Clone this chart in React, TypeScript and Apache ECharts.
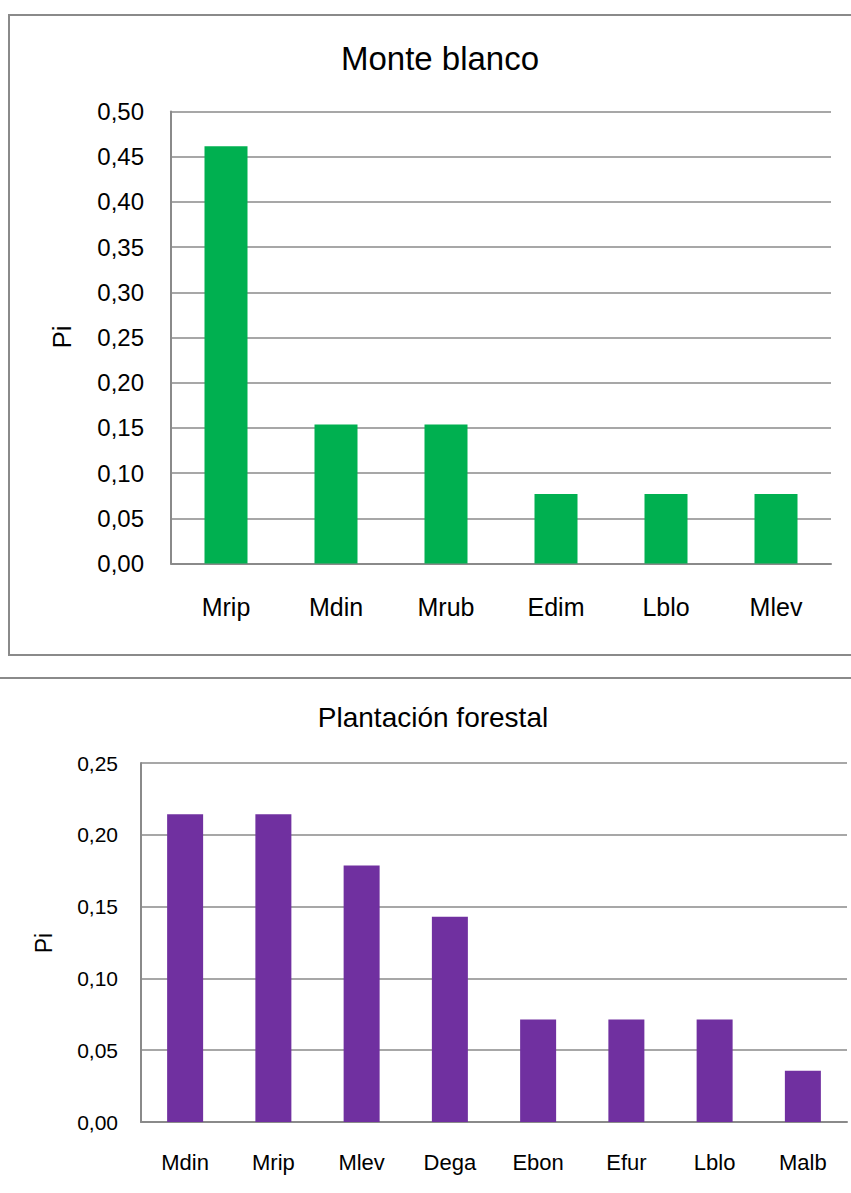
import React, { useEffect, useRef } from "react";
import * as echarts from "echarts";

const topTitle = "Monte blanco";
const topCategories = ["Mrip", "Mdin", "Mrub", "Edim", "Lblo", "Mlev"];
const topValues = [0.4615, 0.1538, 0.1538, 0.0769, 0.0769, 0.0769];

const bottomTitle = "Plantación forestal";
const bottomCategories = ["Mdin", "Mrip", "Mlev", "Dega", "Ebon", "Efur", "Lblo", "Malb"];
const bottomValues = [0.2143, 0.2143, 0.1786, 0.1429, 0.0714, 0.0714, 0.0714, 0.0357];

const yName = "Pi";
const FONT = "'Liberation Sans', Arial, sans-serif";
const GREY = "#8a8a8a";

const fmt = (v: number) => v.toFixed(2).replace(".", ",");

export default function App() {
  const ref = useRef<HTMLDivElement>(null);
  useEffect(() => {
    document.body.style.margin = "0";
    const chart = echarts.init(ref.current!, null, { renderer: "svg" });
    chart.setOption({
      animation: false,
      backgroundColor: "#ffffff",
      textStyle: { fontFamily: FONT },
      title: [
        {
          text: topTitle,
          left: 435,
          top: 37,
          textAlign: "center",
          textStyle: { fontSize: 33, fontWeight: "normal", color: "#000", fontFamily: FONT },
        },
        {
          text: bottomTitle,
          left: 428,
          top: 698,
          textAlign: "center",
          textStyle: { fontSize: 28, fontWeight: "normal", color: "#000", fontFamily: FONT },
        },
      ],
      grid: [
        { left: 171, top: 111.5, width: 660, height: 452 },
        { left: 141, top: 763, width: 706, height: 359 },
      ],
      xAxis: [
        {
          type: "category",
          gridIndex: 0,
          data: topCategories,
          axisLine: { lineStyle: { color: GREY, width: 2 } },
          axisTick: { show: false },
          axisLabel: { color: "#000", fontSize: 25, margin: 31, fontFamily: FONT },
        },
        {
          type: "category",
          gridIndex: 1,
          data: bottomCategories,
          axisLine: { lineStyle: { color: GREY, width: 2 } },
          axisTick: { show: false },
          axisLabel: { color: "#000", fontSize: 22, margin: 29, fontFamily: FONT },
        },
      ],
      yAxis: [
        {
          type: "value",
          gridIndex: 0,
          min: 0,
          max: 0.5,
          interval: 0.05,
          axisLine: { show: true, lineStyle: { color: GREY, width: 2 } },
          axisTick: { show: false },
          splitLine: { lineStyle: { color: GREY, width: 1.5 } },
          axisLabel: { color: "#000", fontSize: 24, margin: 27, formatter: fmt, fontFamily: FONT },
        },
        {
          type: "value",
          gridIndex: 1,
          min: 0,
          max: 0.25,
          interval: 0.05,
          axisLine: { show: true, lineStyle: { color: GREY, width: 2 } },
          axisTick: { show: false },
          splitLine: { lineStyle: { color: GREY, width: 1.5 } },
          axisLabel: { color: "#000", fontSize: 21, margin: 23, formatter: fmt, fontFamily: FONT },
        },
      ],
      series: [
        {
          type: "bar",
          xAxisIndex: 0,
          yAxisIndex: 0,
          data: topValues,
          barWidth: 43,
          itemStyle: { color: "#00B050" },
        },
        {
          type: "bar",
          xAxisIndex: 1,
          yAxisIndex: 1,
          data: bottomValues,
          barWidth: 36,
          itemStyle: { color: "#7030A0" },
        },
      ],
      graphic: [
        {
          type: "rect",
          shape: { x: 9, y: 15, width: 860, height: 640 },
          style: { fill: "none", stroke: GREY, lineWidth: 2 },
          z: 10,
        },
        {
          type: "line",
          shape: { x1: 0, y1: 678, x2: 851, y2: 678 },
          style: { stroke: GREY, lineWidth: 2 },
          z: 10,
        },
        {
          type: "text",
          x: 62,
          y: 337,
          rotation: Math.PI / 2,
          style: {
            text: yName,
            fontSize: 26,
            fill: "#000",
            fontFamily: FONT,
            align: "center",
            verticalAlign: "middle",
          },
        },
        {
          type: "text",
          x: 44,
          y: 943,
          rotation: Math.PI / 2,
          style: {
            text: yName,
            fontSize: 23,
            fill: "#000",
            fontFamily: FONT,
            align: "center",
            verticalAlign: "middle",
          },
        },
      ],
    });
    return () => chart.dispose();
  }, []);
  return (
    <div
      ref={ref}
      style={{ position: "absolute", left: 0, top: 0, width: 851, height: 1193 }}
    />
  );
}
